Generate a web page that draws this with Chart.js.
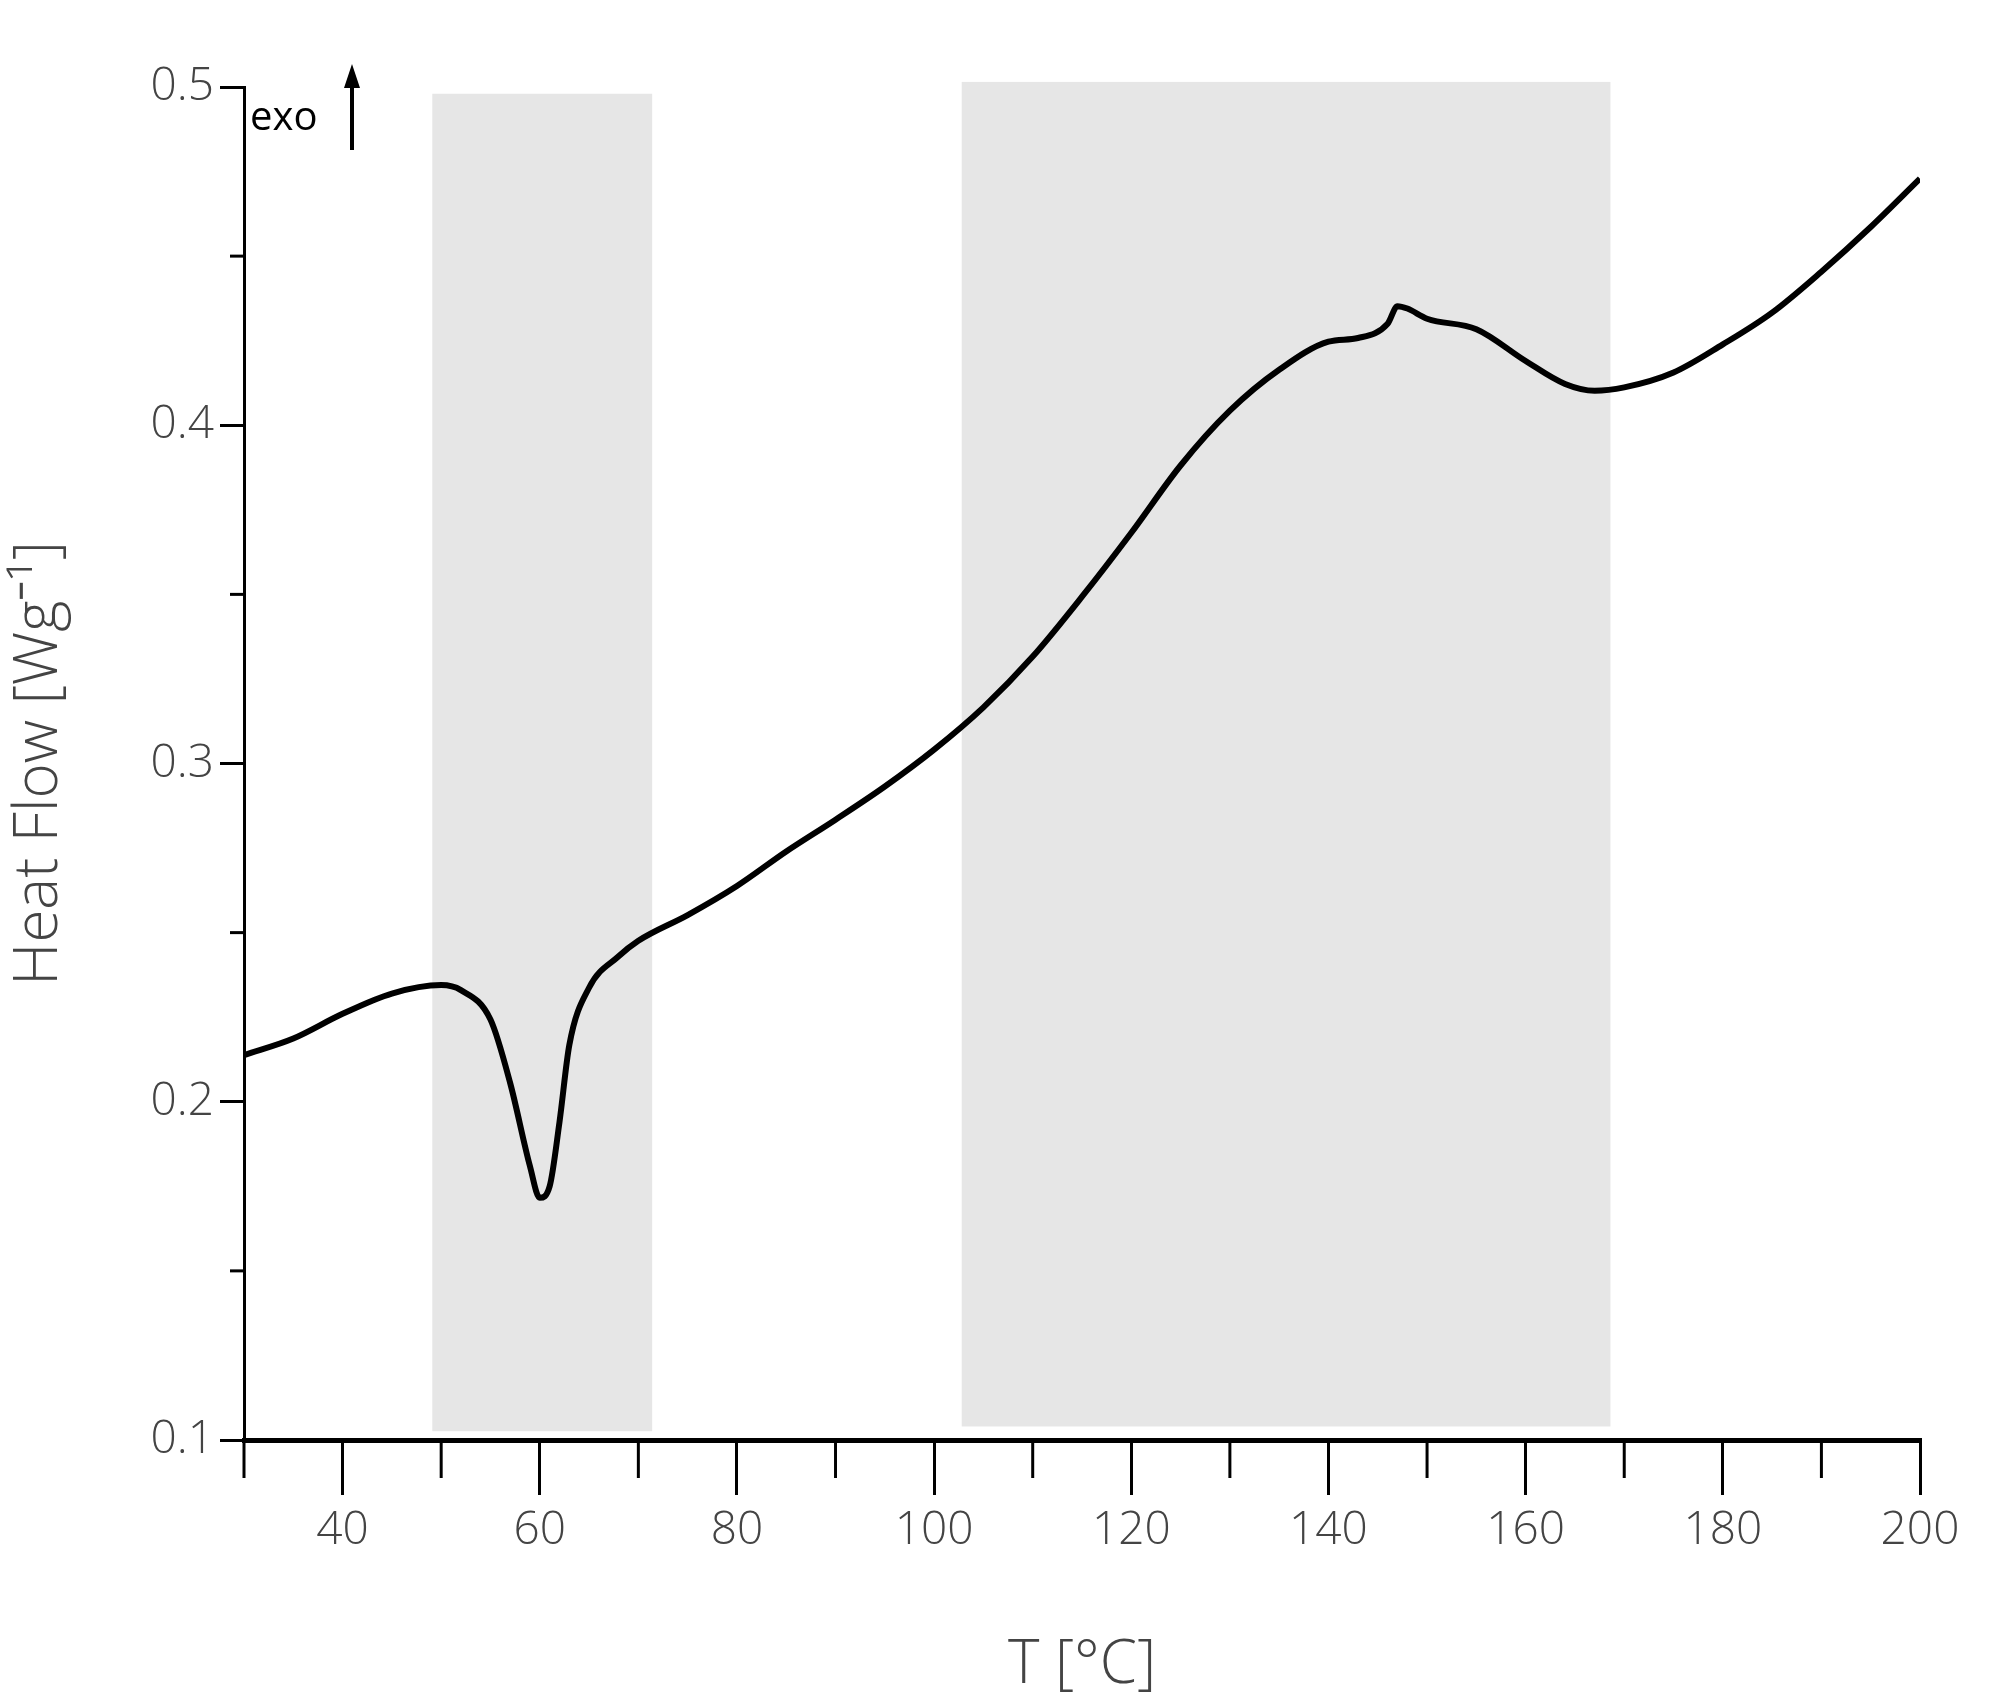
<!DOCTYPE html>
<html><head><meta charset="utf-8">
<script src="https://cdn.jsdelivr.net/npm/chart.js@4"></script>
<style>html,body{margin:0;padding:0;background:#fff}</style>
</head><body>
<canvas id="c" width="2000" height="1706"></canvas>
<script>
const temps = [30,35,40,45,50,52,55,57,59,60,61,62,63,65,68,70,75,80,85,90,95,100,105,110,115,120,125,130,135,140,143,146,147,148,150,155,160,164,167,170,175,180,185,190,195,200];
const heatFlow = [0.2138,0.2187,0.226,0.232,0.2345,0.2330,0.2243,0.2055,0.181,0.1716,0.175,0.194,0.2168,0.2337,0.243,0.2476,0.2552,0.2638,0.274,0.2834,0.2932,0.3041,0.3166,0.3316,0.3493,0.3682,0.3881,0.4043,0.4164,0.4247,0.4258,0.430,0.4352,0.4345,0.4315,0.4284,0.419,0.4122,0.4102,0.4112,0.4156,0.4239,0.4333,0.4454,0.4586,0.4729];
const bands = [[49.1,71.4,0.1026,0.498],[102.8,168.6,0.104,0.5015]];
const xMajor = [40,60,80,100,120,140,160,180,200];
const xMinor = [30,50,70,90,110,130,150,170,190];
const yMajor = [0.1,0.2,0.3,0.4,0.5];
const yMinor = [0.15,0.25,0.35,0.45];
const FONT = "'Open Sans', sans-serif";

const deco = {
  id:'deco',
  beforeDatasetsDraw(ch){
    const {ctx,scales:{x,y}} = ch;
    ctx.save(); ctx.fillStyle='#e6e6e6';
    bands.forEach(b=>{
      const x0=x.getPixelForValue(b[0]), x1=x.getPixelForValue(b[1]);
      const y0=y.getPixelForValue(b[3]), y1=y.getPixelForValue(b[2]);
      ctx.fillRect(x0,y0,x1-x0,y1-y0);
    });
    ctx.restore();
  },
  afterDraw(ch){
    const {ctx,scales:{x,y}} = ch;
    ctx.save();
    ctx.strokeStyle='#000'; ctx.lineWidth=3;
    const yb = y.bottom, xl = x.left;
    xMinor.forEach(v=>{const p=x.getPixelForValue(v); ctx.beginPath(); ctx.moveTo(p,yb); ctx.lineTo(p,yb+38); ctx.stroke();});
    yMinor.forEach(v=>{const p=y.getPixelForValue(v); ctx.beginPath(); ctx.moveTo(xl,p); ctx.lineTo(xl-14,p); ctx.stroke();});
    ctx.fillStyle='#000'; ctx.font = "40px "+FONT; ctx.textAlign='left'; ctx.textBaseline='alphabetic';
    ctx.fillText('exo', 250, 130);
    ctx.lineWidth=4;
    ctx.beginPath(); ctx.moveTo(352,150); ctx.lineTo(352,80); ctx.stroke();
    ctx.beginPath(); ctx.moveTo(352,64); ctx.lineTo(344,88); ctx.lineTo(360,88); ctx.closePath(); ctx.fill();
    ctx.restore();
  }
};

new Chart(document.getElementById('c'),{
  type:'line',
  data:{datasets:[{data:temps.map((t,i)=>({x:t,y:heatFlow[i]})),borderColor:'#000',borderWidth:6,pointRadius:0,cubicInterpolationMode:'monotone',fill:false}]},
  options:{
    responsive:false,animation:false,
    layout:{padding:{top:87,right:80,left:0,bottom:0}},
    plugins:{legend:{display:false},tooltip:{enabled:false}},
    scales:{
      x:{type:'linear',min:30,max:200,
        afterBuildTicks(a){a.ticks=xMajor.map(v=>({value:v}));},
        afterFit(a){a.height=266;},
        border:{color:'#000',width:5},
        grid:{drawOnChartArea:false,color:'#000',lineWidth:3,tickLength:55},
        ticks:{color:'#444',font:{family:FONT,size:46,weight:'300'},padding:8,maxRotation:0,callback:v=>String(v)},
        title:{display:true,text:'T [°C]',color:'#444',font:{family:FONT,size:60,weight:'300'},padding:{top:40}}
      },
      y:{type:'linear',min:0.1,max:0.5,
        afterBuildTicks(a){a.ticks=yMajor.map(v=>({value:v}));},
        afterFit(a){a.width=244;},
        border:{color:'#000',width:3},
        grid:{drawOnChartArea:false,color:'#000',lineWidth:3,tickLength:24},
        ticks:{color:'#444',font:{family:FONT,size:46,weight:'300'},padding:6,callback:v=>v.toFixed(1)},
        title:{display:true,text:'Heat Flow [Wg⁻¹]',color:'#444',font:{family:FONT,size:60,weight:'300'},padding:{bottom:20}}
      }
    }
  },
  plugins:[deco]
});
</script>
</body></html>
